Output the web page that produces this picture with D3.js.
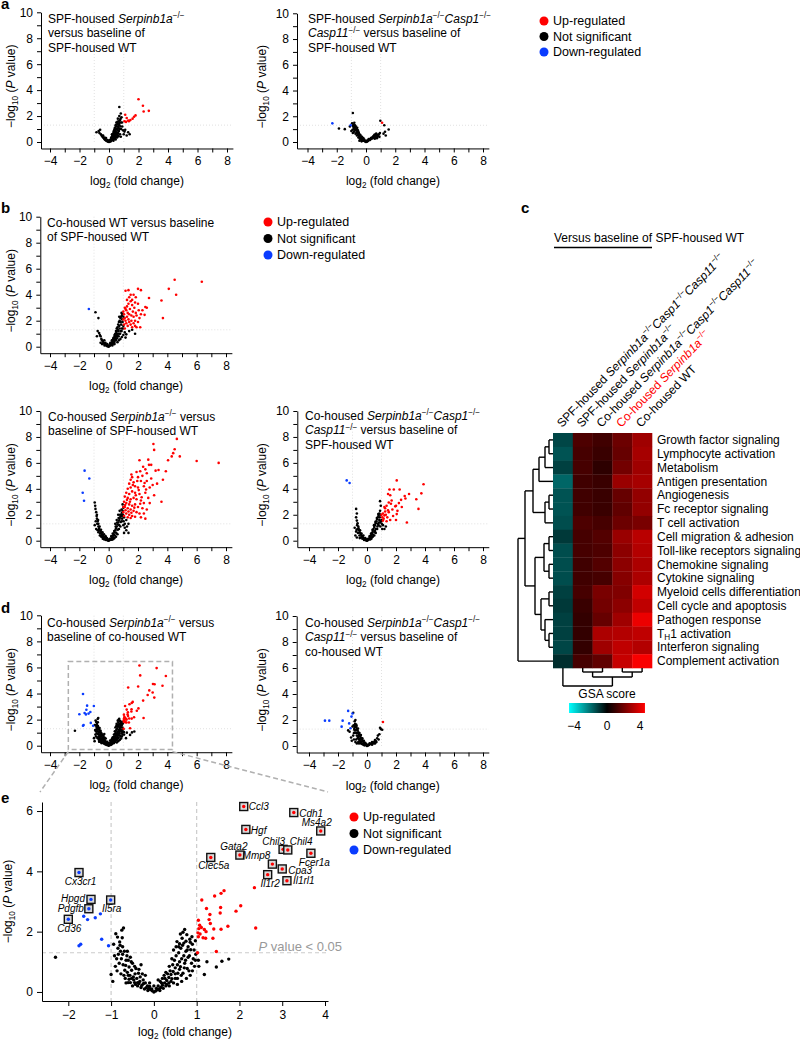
<!DOCTYPE html>
<html><head><meta charset="utf-8">
<script src="https://cdn.jsdelivr.net/npm/d3@7"></script>
<style>
body{margin:0;background:#fff;}
svg{font-family:"Liberation Sans",Arial,Helvetica,sans-serif;}
</style></head><body>
<svg id="fig" width="800" height="1042"></svg>
<script>
// ---------------- DATA ----------------
const legendLabels = ["Up-regulated","Not significant","Down-regulated"];
const xTickValues = [-4,-3,-2,-1,0,1,2,3,4,5,6,7,8];
const yTickValues = [0,1,2,3,4,5,6,7,8,9,10];
const eXTicks = [-2,-1,0,1,2,3,4];
const eYTicks = [0,2,4,6];

// a-left: SPF Serpinb1a-/- vs SPF WT
const aL_up = [[2.0,3.3],[2.3,2.8],[2.35,2.35],[2.7,2.4],[1.1,2.1],[1.2,1.85],[1.05,1.6],[1.3,1.65],[1.45,1.7],[1.6,1.8],[1.7,1.95],[1.8,2.05],[1.35,1.6],[1.15,1.55]];
const aL_ns = [[-0.85,0.75],[-0.6,0.95],[-0.55,0.6],[-0.5,0.5],[-0.45,0.42],[-0.4,0.35],[-0.35,0.3],[-0.3,0.22],[-0.25,0.15],[-0.2,0.12],[-0.15,0.08],[-0.1,0.05],[-0.05,0.02],[0,0],[0.05,0.03],[0.1,0.08],[0.12,0.2],[0.15,0.15],[0.2,0.35],[0.2,0.2],[0.25,0.5],[0.25,0.3],[0.3,0.7],[0.3,0.4],[0.35,0.9],[0.35,0.55],[0.35,0.25],[0.4,1.1],[0.4,0.7],[0.4,0.4],[0.45,1.3],[0.45,0.85],[0.45,0.5],[0.5,1.5],[0.5,1.0],[0.5,0.6],[0.55,1.2],[0.55,0.7],[0.6,1.8],[0.6,1.4],[0.6,0.9],[0.65,1.6],[0.65,1.1],[0.7,2.7],[0.7,2.0],[0.7,1.3],[0.75,1.7],[0.8,2.2],[0.8,1.5],[0.85,1.9],[0.9,1.2],[0.95,0.9],[1.0,0.6],[1.05,0.8],[1.2,0.5],[1.3,0.75],[1.4,0.6],[1.1,0.95],[0.3,0.1],[0.45,0.2],[0.55,0.35],[0.65,0.45],[0.75,0.6],[0.15,0.35],[0.2,0.6],[-0.2,0.3],[0.8,0.4],
 [0.02,0.1],[0.08,0.15],[0.12,0.05],[0.18,0.25],[0.22,0.45],[0.28,0.6],[0.28,0.15],[0.32,0.8],[0.33,0.45],[0.38,1.0],[0.38,0.6],[0.42,0.3],[0.42,0.95],[0.48,1.2],[0.48,0.75],[0.52,1.35],[0.52,0.4],[0.57,1.55],[0.57,1.0],[0.58,0.55],[0.62,1.2],[0.62,0.7],[0.67,1.4],[0.67,0.85],[0.72,1.5],[0.72,1.0],[0.78,1.8],[0.78,1.2],[0.82,1.0],[0.88,1.5],[-0.05,0.1],[-0.1,0.15],[-0.3,0.35],[-0.4,0.5],[-0.65,0.7],[-0.7,0.85]];
const aL_down = [];

// a-right: SPF triple KO vs SPF WT
const aR_up = [[1.1,1.5]];
const aR_ns = [[-0.9,2.25],[-1.85,1.05],[-1.45,1.0],[-1.1,1.2],[-0.95,1.45],[-0.85,1.35],[-0.8,1.5],[-0.75,1.3],[-0.85,1.1],[-0.8,0.95],[-0.75,1.1],[-0.7,1.2],[-0.7,0.9],[-0.65,1.0],[-0.6,0.8],[-0.65,0.7],[-0.55,0.6],[-0.5,0.75],[-0.5,0.5],[-0.45,0.4],[-0.4,0.55],[-0.4,0.3],[-0.35,0.35],[-0.3,0.25],[-0.25,0.2],[-0.2,0.15],[-0.15,0.1],[-0.1,0.08],[-0.05,0.03],[0,0],[0.05,0.02],[0.1,0.05],[0.15,0.1],[0.2,0.15],[0.25,0.2],[0.3,0.25],[0.35,0.3],[0.4,0.35],[0.45,0.3],[0.5,0.45],[0.55,0.5],[0.6,0.4],[0.65,0.6],[0.7,0.5],[0.75,0.3],[0.8,0.55],[0.85,0.45],[0.95,0.7],[0.98,1.65],[1.25,1.3],[1.55,0.97],[1.3,0.8],[1.35,0.5],[1.2,0.65],[-1.0,0.85],[-0.9,0.7],[-0.6,1.1],[-0.55,0.9],[0.6,0.25],[0.7,0.65],
 [-0.05,0.1],[-0.12,0.2],[-0.18,0.3],[-0.22,0.1],[-0.28,0.4],[-0.32,0.15],[-0.38,0.5],[-0.42,0.25],[-0.48,0.65],[-0.52,0.35],[-0.58,0.75],[-0.62,0.5],[-0.68,0.95],[-0.72,0.65],[-0.78,1.2],[-0.82,0.8],[-0.88,1.25],[-0.92,0.95],[0.08,0.12],[0.18,0.22],[0.28,0.15],[0.38,0.25],[0.48,0.35],[0.58,0.55],[0.68,0.35],[0.78,0.45],[0.88,0.6],[0.92,0.4],[-0.3,0.05],[-0.45,0.1]];
const aR_down = [[-2.3,1.45],[-1.05,1.3]];

// b-top: Co-housed WT vs SPF WT
const bT_up = [[6.35,5.0],[4.5,5.15],[4.1,4.45],[4.6,4.0],[3.6,3.55],[3.7,2.2],[2.75,3.75],[2.0,4.45],[2.2,4.35],[1.15,4.3],[1.35,4.35],[1.5,4.0],[1.7,4.0],[1.85,3.8],[2.5,3.05],[2.6,3.0],[2.45,2.45],[1.1,3.0],[1.15,2.9],[1.2,2.8],[1.25,3.1],[1.3,2.6],[1.35,3.3],[1.4,2.5],[1.45,2.9],[1.5,3.5],[1.55,2.4],[1.6,3.2],[1.65,2.7],[1.7,2.3],[1.75,3.0],[1.8,2.0],[1.85,2.6],[1.9,2.4],[2.0,3.3],[2.05,2.8],[2.1,2.2],[2.2,2.5],[1.05,2.5],[1.1,2.2],[1.15,2.0],[1.2,1.8],[1.25,2.3],[1.3,1.6],[1.35,2.1],[1.4,1.9],[1.5,1.7],[1.55,2.0],[1.6,1.5],[1.7,1.8],[1.8,1.6],[1.9,1.5],[2.0,1.9],[2.15,1.5],[1.25,3.6],[1.4,3.8],[1.6,3.6],[1.8,3.4],[2.3,2.8],[1.05,1.7],[1.1,1.4],[1.0,2.7],[1.0,2.1]];
const bT_ns = [[-0.9,2.65],[-0.7,2.2],[-0.8,0.8],[-0.65,1.05],[-0.55,0.8],[-0.5,0.6],[-0.45,0.5],[-0.4,0.4],[-0.35,0.3],[-0.3,0.25],[-0.25,0.2],[-0.2,0.15],[-0.15,0.1],[-0.1,0.06],[-0.05,0.03],[0,0],[0.05,0.05],[0.1,0.1],[0.15,0.2],[0.2,0.3],[0.25,0.4],[0.3,0.55],[0.35,0.7],[0.4,0.9],[0.45,1.0],[0.5,1.2],[0.55,1.4],[0.6,1.5],[0.65,1.7],[0.7,1.9],[0.75,2.0],[0.8,2.2],[0.85,2.3],[0.9,2.4],[0.95,2.5],[1.0,2.3],[0.2,0.15],[0.3,0.3],[0.4,0.45],[0.5,0.6],[0.6,0.8],[0.7,1.0],[0.8,1.2],[0.9,1.4],[1.0,1.6],[0.35,0.5],[0.45,0.7],[0.55,0.9],[0.65,1.2],[0.75,1.4],[0.85,1.7],[0.95,1.9],[0.25,0.1],[0.4,0.2],[0.6,0.35],[0.8,0.6],[1.0,0.9],[1.1,1.1],[1.2,0.95],[1.4,1.2],[1.6,1.3],[1.8,1.0],[1.15,0.7],[0.1,0.25],[-0.1,0.2],[-0.3,0.5],[-0.55,0.3],[0.7,0.5],[0.9,0.75],
 [0.12,0.3],[0.22,0.5],[0.28,0.2],[0.32,0.65],[0.38,0.35],[0.42,0.8],[0.48,0.5],[0.52,1.05],[0.58,0.65],[0.62,1.3],[0.68,0.8],[0.72,1.6],[0.78,1.0],[0.82,1.9],[0.88,1.2],[0.92,2.1],[0.98,1.4],[0.72,2.3],[0.88,2.6],[0.6,1.0],[0.5,0.8],[0.4,0.6],[-0.05,0.1],[-0.12,0.05],[-0.22,0.3],[-0.28,0.1],[-0.38,0.25],[-0.45,0.2],[-0.6,0.9],[-0.75,1.2]];
const bT_down = [[-1.35,2.9]];

// b-lower-left: Co-housed Serpinb1a-/- vs SPF WT
const bL_up = [[4.65,7.85],[3.05,7.45],[3.1,7.0],[4.4,6.75],[4.5,7.05],[4.3,6.5],[4.85,6.5],[4.05,6.2],[6.0,6.15],[7.5,6.0],[2.7,6.25],[2.1,6.2],[2.9,5.85],[2.75,5.85],[3.9,5.35],[3.4,5.45],[3.2,5.4],[2.35,5.7],[3.7,4.7],[3.6,3.0],[2.5,1.7],[2.5,5.5],[2.6,5.2],[2.3,5.0],[2.0,4.9],[1.9,5.3],[1.6,4.9],[1.5,4.7],[1.7,4.5],[1.4,4.4],[2.2,4.6],[2.6,4.6],[2.9,4.8],[3.0,4.3],[3.3,4.4],[2.8,4.1],[2.4,4.2],[2.0,4.1],[1.8,4.2],[1.5,4.1],[1.3,4.0],[1.2,3.7],[1.4,3.6],[1.6,3.8],[1.8,3.7],[2.1,3.6],[2.5,3.7],[2.7,3.3],[3.1,3.5],[1.1,3.4],[1.3,3.3],[1.5,3.2],[1.7,3.3],[1.9,3.2],[2.2,3.1],[2.4,2.9],[2.8,2.9],[1.05,3.0],[1.2,2.9],[1.4,2.8],[1.6,2.7],[1.8,2.8],[2.0,2.6],[2.3,2.5],[2.6,2.4],[1.1,2.6],[1.3,2.5],[1.5,2.4],[1.7,2.3],[1.9,2.2],[2.1,2.1],[2.4,2.1],[1.0,2.2],[1.2,2.1],[1.4,2.0],[1.6,1.9],[1.8,1.85],[2.2,1.8],[1.05,1.9],[1.3,1.8],[1.5,1.75],[1.15,2.35],[1.25,3.15],[1.35,2.25],[1.45,3.0],[1.55,2.15],[1.75,2.55],[1.85,3.5],[2.05,3.9],[2.15,2.85],[2.25,3.35],[1.65,4.3],[1.95,4.6],[2.45,4.45],[2.55,3.95],[1.55,5.1],[2.15,5.35],[1.0,2.6],[1.12,2.75]];
const bL_ns = [[-0.95,2.95],[-0.9,2.45],[-0.92,2.7],[-0.85,2.2],[-0.8,2.0],[-0.8,1.7],[-0.75,1.5],[-0.7,1.3],[-0.7,1.1],[-0.65,0.95],[-0.6,0.8],[-0.55,0.7],[-0.5,0.6],[-0.45,0.5],[-0.4,0.4],[-0.35,0.3],[-0.3,0.25],[-0.25,0.2],[-0.2,0.15],[-0.15,0.1],[-0.1,0.05],[-0.05,0.02],[0,0],[0.05,0.03],[0.1,0.07],[0.15,0.12],[0.2,0.2],[0.25,0.3],[0.3,0.4],[0.35,0.5],[0.4,0.65],[0.45,0.8],[0.5,0.95],[0.55,1.1],[0.6,1.25],[0.65,1.4],[0.7,1.55],[0.75,1.7],[0.8,1.85],[0.85,2.0],[0.9,2.15],[0.95,2.3],[1.0,2.55],[0.95,2.8],[0.9,1.5],[1.0,1.2],[1.1,1.0],[1.2,0.8],[1.35,0.6],[1.2,1.6],[1.05,1.8],[0.7,0.9],[0.6,0.5],[0.5,0.3],[0.4,0.2],[0.3,0.12],[0.8,1.1],[0.9,1.9],[-0.6,0.4],[-0.75,0.8],[-0.85,0.9],[-0.95,1.2],[-0.5,0.3],[-0.4,0.15],[-0.3,0.1],[-0.2,0.3],[-0.7,0.65],[0.2,0.08],[0.65,2.0],[0.75,2.3],[0.55,1.6],[0.45,1.3],[1.05,0.6],[1.35,1.3],
 [-0.05,0.1],[-0.12,0.2],[-0.18,0.05],[-0.22,0.35],[-0.28,0.15],[-0.32,0.5],[-0.38,0.2],[-0.42,0.65],[-0.48,0.35],[-0.52,0.85],[-0.58,0.55],[-0.62,1.1],[-0.68,0.8],[-0.72,1.6],[-0.78,1.3],[-0.82,1.9],[-0.88,1.5],[0.08,0.15],[0.18,0.35],[0.22,0.1],[0.28,0.55],[0.32,0.25],[0.38,0.75],[0.42,0.4],[0.48,1.1],[0.52,0.6],[0.58,1.4],[0.62,0.85],[0.68,1.75],[0.72,1.2],[0.78,2.0],[0.82,1.45],[0.88,2.4],[0.92,1.7],[0.98,2.0],[1.02,1.5],[1.1,1.3],[1.25,1.1]];
const bL_down = [[-1.64,5.4],[-1.32,4.8],[-1.77,3.7],[-1.68,3.08]];

// b-lower-right: Co-housed triple KO vs SPF WT
const bR_up = [[3.9,4.35],[3.75,3.65],[2.05,4.65],[2.25,3.95],[1.85,3.95],[1.55,3.95],[1.6,3.5],[1.45,3.6],[2.9,3.6],[2.6,3.45],[2.65,3.25],[2.35,3.15],[3.55,2.45],[3.4,3.2],[2.75,1.4],[2.05,2.05],[2.1,2.3],[1.65,2.85],[1.95,2.65],[1.35,2.7],[1.25,2.5],[1.1,2.1],[1.0,2.0],[1.05,1.8],[1.15,1.7],[1.2,1.95],[1.3,2.0],[1.4,1.8],[1.5,2.2],[1.6,1.6],[1.75,2.4],[1.8,1.9],[2.0,2.7],[2.2,2.9],[1.45,2.35],[1.25,2.25],[1.1,1.55],[1.35,1.5],[1.7,3.1],[1.5,2.95],[2.4,2.6],[2.0,1.6],[1.2,2.6]];
const bR_ns = [[-0.75,2.45],[-0.7,2.1],[-0.75,1.8],[-0.7,1.55],[-0.65,1.35],[-0.6,1.1],[-0.65,0.9],[-0.55,0.8],[-0.5,0.65],[-0.45,0.55],[-0.4,0.45],[-0.35,0.35],[-0.3,0.28],[-0.25,0.2],[-0.2,0.15],[-0.15,0.1],[-0.1,0.06],[-0.05,0.02],[0,0],[0.05,0.03],[0.1,0.08],[0.15,0.15],[0.2,0.25],[0.25,0.35],[0.3,0.45],[0.35,0.6],[0.4,0.75],[0.45,0.9],[0.5,1.05],[0.55,1.2],[0.6,1.35],[0.65,1.5],[0.7,1.65],[0.75,1.8],[0.8,1.95],[0.85,2.1],[0.9,2.3],[0.9,3.05],[0.95,2.0],[1.0,1.6],[1.1,1.2],[1.2,0.9],[0.7,0.9],[0.6,0.6],[0.5,0.4],[0.4,0.3],[0.8,1.2],[0.9,1.4],[-0.8,0.4],[-0.75,0.7],[-0.85,1.0],[-0.7,0.25],[-0.5,0.2],[0.3,0.15],[0.55,0.75],[0.75,1.3],[0.85,1.6],[1.3,1.1],[1.05,0.9],[0.95,2.7],
 [-0.05,0.1],[-0.12,0.2],[-0.2,0.05],[-0.25,0.4],[-0.32,0.15],[-0.38,0.55],[-0.42,0.25],[-0.48,0.8],[-0.52,0.4],[-0.58,0.95],[-0.62,0.6],[-0.68,1.2],[-0.72,0.85],[0.08,0.15],[0.18,0.35],[0.22,0.1],[0.28,0.55],[0.32,0.25],[0.38,0.85],[0.42,0.45],[0.48,1.2],[0.52,0.65],[0.58,1.45],[0.62,0.9],[0.68,1.75],[0.72,1.1],[0.78,2.05],[0.82,1.4],[0.88,1.8],[0.92,1.1],[0.98,1.5],[1.02,1.3]];
const bR_down = [[-1.4,4.65],[-1.2,4.45]];

// d-right: Co-housed triple KO vs co-housed WT
const dR_up = [[1.1,1.85]];
const dR_ns = [[-0.95,2.55],[-0.85,1.9],[-0.8,1.6],[-0.75,1.45],[-0.7,1.3],[-0.65,1.2],[-0.6,1.05],[-0.55,0.9],[-0.5,0.8],[-0.45,0.7],[-0.4,0.6],[-0.35,0.5],[-0.3,0.4],[-0.25,0.3],[-0.2,0.25],[-0.15,0.18],[-0.1,0.1],[-0.05,0.05],[0,0],[0.05,0.03],[0.1,0.06],[0.15,0.1],[0.2,0.15],[0.3,0.2],[0.4,0.25],[0.5,0.3],[0.6,0.4],[0.7,0.6],[0.75,0.8],[0.95,1.3],[1.05,1.25],[0.9,1.4],[-0.9,1.0],[-1.1,0.65],[-1.05,0.4],[-0.95,0.8],[-0.85,1.2],[-0.75,1.0],[-0.7,0.8],[-0.65,0.6],[-0.6,0.7],[-0.55,0.5],[-0.5,0.4],[-0.45,0.3],[-0.4,0.2],[-0.35,0.15],[-0.9,0.5],[-0.8,0.3],[-0.7,0.2],[-0.6,0.3],[-1.2,1.1],[-1.3,1.2],[-0.25,0.1],[0.35,0.1],[0.55,0.2],[-0.8,2.0],[-0.85,1.45],[-0.75,1.65],
 [-0.05,0.15],[-0.12,0.25],[-0.18,0.05],[-0.22,0.4],[-0.28,0.15],[-0.32,0.6],[-0.38,0.35],[-0.42,0.85],[-0.48,0.55],[-0.52,1.0],[-0.58,0.75],[-0.62,1.35],[-0.68,1.0],[-0.72,1.55],[-0.78,1.2],[-0.82,1.7],[-0.88,1.3],[-0.92,1.6],[0.08,0.1],[0.18,0.2],[0.25,0.15],[0.35,0.3],[0.45,0.2],[0.55,0.45],[0.65,0.3],[0.8,0.5],[0.85,0.9],[-0.75,0.5],[-0.55,0.2],[-1.0,1.5]];
const dR_down = [[-2.9,1.95],[-2.6,1.95],[-1.3,2.7],[-1.0,2.5],[-1.07,2.26],[-1.68,1.95],[-1.75,1.49],[-1.23,1.74],[-1.14,1.36]];

// d-left and e: Co-housed Serpinb1a-/- vs co-housed WT
const upGenes = ["Ccl3","Cdh1","Ms4a2","Hgf","Gata2","Clec5a","Chil3","Chil4","Fcer1a","Mmp8","Cpa3","Il1r2","Il1rl1"];
const upGeneFC = [2.1,3.27,3.9,2.15,2.01,1.33,3.02,3.13,3.67,2.77,3.0,2.66,3.11];
const upGeneP = [6.15,5.95,5.34,5.39,4.54,4.46,4.73,4.71,4.6,4.24,4.08,3.89,3.69];
const downGenes = ["Cx3cr1","Hpgd","Pdgfb","Il5ra","Cd36"];
const downGeneFC = [-1.75,-1.47,-1.52,-1.01,-2.0];
const downGeneP = [3.96,3.07,2.76,3.05,2.41];
const e_up = [[2.35,3.46],[1.64,3.36],[1.42,3.18],[1.57,3.27],[1.12,3.05],[1.23,2.77],[1.04,2.38],[1.29,2.4],[1.31,2.57],[1.07,2.21],[1.11,2.14],[1.56,2.8],[1.55,2.62],[2.03,2.86],[1.92,2.68],[1.73,2.18],[1.57,2.08],[1.4,2.09],[1.18,2.07],[1.38,1.78],[1.21,1.78],[1.04,1.83],[1.03,1.96],[1.08,1.92],[2.38,2.12],[1.46,1.34],[1.02,1.3],[1.32,2.27],[1.22,2.0],[1.05,2.1],[1.15,1.8]];
const e_down = [[-1.64,2.51],[-1.55,2.4],[-1.37,2.46],[-1.25,2.59],[-1.22,1.75],[-1.06,1.53],[-1.75,1.53],[-1.71,1.58]];
const e_ns = [[-2.3,1.15],[-1.0,0.58],[-0.86,0.7],[-0.71,2.12],[-0.75,2.05],[-0.89,1.93],[-0.85,1.82],[-0.8,1.66],[-0.94,1.58],[-0.73,1.5],[-0.83,1.25],[-0.73,1.25],[-0.63,1.2],[-0.87,1.1],[-0.65,1.05],[-0.55,1.15],[-0.5,0.95],[-0.58,0.83],[-0.68,0.72],[-0.52,0.72],[-0.44,0.6],[-0.48,0.5],[-0.55,0.31],[-0.45,0.31],[-0.38,0.31],[-0.6,0.31],[-0.4,0.45],[-0.32,0.5],[-0.25,0.4],[-0.2,0.3],[-0.28,0.22],[-0.15,0.2],[-0.12,0.12],[-0.08,0.08],[-0.04,0.04],[0,0],[0.04,0.03],[0.08,0.07],[0.12,0.1],[0.16,0.15],[0.2,0.22],[0.25,0.3],[0.3,0.38],[0.35,0.48],[0.4,0.58],[0.45,0.68],[0.5,0.8],[0.55,0.9],[0.6,1.0],[0.65,1.1],[0.7,1.2],[0.75,1.35],[0.8,1.5],[0.85,1.65],[0.89,1.83],[0.72,2.07],[0.68,1.98],[0.62,1.92],[0.66,1.78],[0.54,1.67],[0.75,1.68],[0.67,1.55],[0.58,1.5],[0.46,1.39],[0.78,1.39],[0.94,1.39],[0.83,1.2],[0.97,1.05],[0.72,0.95],[0.62,0.84],[0.5,0.6],[0.42,0.44],[0.35,0.3],[0.28,0.2],[0.36,0.2],[0.46,0.3],[0.55,0.45],[0.68,0.62],[0.78,0.78],[0.88,0.95],[1.18,0.58],[1.46,0.83],[1.59,1.02],[1.75,1.09],[1.24,1.0],[1.05,0.85],[1.04,1.05],[0.98,1.25],[0.9,0.7],[0.24,0.55],[0.15,0.35],[-0.1,0.3],[-0.2,0.55],[-0.35,0.75],[-0.3,0.9],[-0.6,0.55],[-0.67,0.45],[-0.72,0.9],[-0.78,1.35],[-0.62,1.35],[-0.45,0.85],
 [-0.05,0.1],[-0.1,0.18],[-0.14,0.05],[-0.18,0.14],[-0.22,0.1],[-0.24,0.28],[-0.3,0.15],[-0.33,0.35],[-0.36,0.62],[-0.38,0.2],[-0.42,0.78],[-0.47,0.4],[-0.5,0.2],[-0.53,1.0],[-0.56,0.55],[-0.58,0.42],[-0.6,1.05],[-0.62,0.65],[-0.65,0.3],[-0.66,0.88],[-0.69,1.35],[-0.7,0.55],[-0.74,1.8],[-0.76,1.1],[-0.77,0.6],[-0.79,1.55],[-0.81,0.95],[-0.84,1.45],[-0.9,0.85],[-0.92,1.2],[-0.96,0.35],[-0.35,0.28],[-0.27,0.6],[-0.43,0.25],[-0.52,0.45],
 [0.06,0.12],[0.1,0.2],[0.14,0.05],[0.18,0.3],[0.22,0.12],[0.26,0.45],[0.3,0.25],[0.32,0.6],[0.38,0.7],[0.4,0.35],[0.44,0.9],[0.48,1.05],[0.5,0.45],[0.52,1.2],[0.56,0.62],[0.58,1.3],[0.6,0.75],[0.63,1.45],[0.64,0.55],[0.7,1.62],[0.71,0.8],[0.74,1.05],[0.77,1.9],[0.8,1.15],[0.82,0.7],[0.84,1.75],[0.86,1.4],[0.9,1.58],[0.92,1.1],[0.95,0.85],[0.97,1.7],[0.52,1.5],[0.6,1.6],[0.42,1.1],[0.36,0.85],[0.28,0.65],[0.2,0.45],[0.1,0.4],[0.0,0.2],[0.85,0.55],[0.76,0.45],[0.65,0.35],[0.55,0.25]];

// titles
const titleAL = ["SPF-housed <i>Serpinb1a</i><s>−/−</s>","versus baseline of","SPF-housed WT"];
const titleAR = ["SPF-housed <i>Serpinb1a</i><s>−/−</s><i>Casp1</i><s>−/−</s>","<i>Casp11</i><s>−/−</s> versus baseline of","SPF-housed WT"];
const titleBT = ["Co-housed WT versus baseline","of SPF-housed WT"];
const titleBL = ["Co-housed <i>Serpinb1a</i><s>−/−</s> versus","baseline of SPF-housed WT"];
const titleBR = ["Co-housed <i>Serpinb1a</i><s>−/−</s><i>Casp1</i><s>−/−</s>","<i>Casp11</i><s>−/−</s> versus baseline of","SPF-housed WT"];
const titleDL = ["Co-housed <i>Serpinb1a</i><s>−/−</s> versus","baseline of co-housed WT"];
const titleDR = ["Co-housed <i>Serpinb1a</i><s>−/−</s><i>Casp1</i><s>−/−</s>","<i>Casp11</i><s>−/−</s> versus baseline of","co-housed WT"];

// heatmap
const pathways = ["Growth factor signaling","Lymphocyte activation","Metabolism","Antigen presentation","Angiogenesis","Fc receptor signaling","T cell activation","Cell migration & adhesion","Toll-like receptors signaling","Chemokine signaling","Cytokine signaling","Myeloid cells differentiation","Cell cycle and apoptosis","Pathogen response","T<b>H</b>1 activation","Interferon signaling","Complement activation"];
const conditions = ["SPF-housed <i>Serpinb1a</i><s>−/−</s><i>Casp1</i><s>−/−</s><i>Casp11</i><s>−/−</s>","SPF-housed <i>Serpinb1a</i><s>−/−</s>","Co-housed <i>Serpinb1a</i><s>−/−</s><i>Casp1</i><s>−/−</s><i>Casp11</i><s>−/−</s>","Co-housed <i>Serpinb1a</i><s>−/−</s>","Co-housed WT"];
const conditionHighlight = [false,false,false,true,false];
const gsaScores = [
 [-1.1,1.2,1.0,1.7,2.5],
 [-1.3,1.1,0.9,1.6,2.6],
 [-1.0,1.1,0.7,1.8,2.5],
 [-1.6,1.0,0.9,2.4,2.6],
 [-1.3,1.0,0.9,1.6,2.3],
 [-1.3,1.0,0.9,1.5,2.3],
 [-1.2,1.2,1.1,1.7,1.9],
 [-0.9,1.1,1.3,2.4,2.9],
 [-1.2,1.1,1.2,2.2,2.8],
 [-1.2,1.0,1.3,2.2,2.7],
 [-1.2,1.0,1.1,2.1,2.7],
 [-1.0,1.1,1.9,2.0,3.3],
 [-0.9,0.9,1.8,2.2,3.0],
 [-1.0,0.8,1.6,2.5,3.7],
 [-1.0,0.8,2.7,2.8,3.0],
 [-1.1,0.8,2.5,3.0,2.8],
 [-0.7,1.1,1.5,3.1,3.9]
];
// hclust-style merges: negative = leaf (1-based), positive = earlier merge; third = height
const rowMerges = [[-1,-2,4],[1,-3,8],[2,-4,14],[-5,-6,4],[4,-7,8],[3,5,20],[-8,-9,4],[-10,-11,4],[7,8,9],[-12,-13,4],[-15,-16,4],[-14,11,8],[10,12,12],[9,13,18],[6,14,28],[15,-17,35]];
const colMerges = [[-2,-3,4],[-4,-5,4],[1,2,9],[-1,3,18]];
const gsaDomain = [-4,0,4];
const gsaColors = ["#00ffff","#000000","#ff0000"];

// ---------------- DRAWING ----------------
const svg = d3.select("#fig");
const FS = 12;
const COL = {up:"#ff0000", ns:"#000000", down:"#0a3cff"};

function parseSegs(str){
  const out=[]; const re=/<([isb])>(.*?)<\/\1>/g; let last=0, m;
  while((m=re.exec(str))){ if(m.index>last) out.push([str.slice(last,m.index),""]); out.push([m[2],m[1]]); last=re.lastIndex; }
  if(last<str.length) out.push([str.slice(last),""]);
  return out;
}
function rich(sel, str, size){
  let shift=0;
  parseSegs(str).forEach(([t,st])=>{
    const ts = sel.append("tspan").text(t);
    const target = st==="s" ? -0.4*size : st==="b" ? 0.22*size : 0;
    if(target!==shift){ ts.attr("dy", target-shift); shift=target; }
    if(st==="s"||st==="b") ts.attr("font-size", size*0.68);
    if(st==="i") ts.attr("font-style","italic");
  });
  return sel;
}

function panelLetter(t,x,y){
  svg.append("text").attr("x",x).attr("y",y).attr("font-size",15).attr("font-weight","bold").text(t);
}

function legend(x,y,sp){
  const g = svg.append("g");
  [COL.up,COL.ns,COL.down].forEach((c,i)=>{
    g.append("circle").attr("cx",x).attr("cy",y+i*sp).attr("r",4.5).attr("fill",c);
    g.append("text").attr("x",x+9).attr("y",y+i*sp).attr("dy","0.35em").attr("font-size",12.5).text(legendLabels[i]);
  });
}

function yTitle(g, x, y){
  const t = g.append("text").attr("transform",`translate(${x},${y}) rotate(-90)`).attr("text-anchor","middle").attr("font-size",FS);
  rich(t, "−log<b>10</b> (<i>P</i> value)", FS);
}
function xTitle(g, x, y){
  const t = g.append("text").attr("x",x).attr("y",y).attr("text-anchor","middle").attr("font-size",FS);
  rich(t, "log<b>2</b> (fold change)", FS);
}

function styleAxis(ax){
  ax.attr("font-family",null).attr("font-size",FS);
  ax.selectAll("path,line").attr("stroke","#000").attr("stroke-width",1);
}
const intFmt = d3.format("d");

function volcano(cfg){
  const g = svg.append("g");
  const ppu = (cfg.x8 - cfg.xm4)/12;
  const xStart = -4 - (cfg.xm4 - cfg.ax)/ppu;
  const x = d3.scaleLinear().domain([xStart, 8.4]).range([cfg.ax, cfg.xm4 + 12.4*ppu]);
  const ppy = (cfg.y0 - cfg.y10)/10;
  const y = d3.scaleLinear().domain([-0.5, 10]).range([cfg.y0 + 0.5*ppy, cfg.y10]);
  const gl = g.append("g").attr("stroke","#d9d9d9").attr("stroke-width",0.8).attr("stroke-dasharray","1,2");
  [-1,1].forEach(v=> gl.append("line").attr("x1",x(v)).attr("x2",x(v)).attr("y1",y(0)).attr("y2",y(10)));
  gl.append("line").attr("x1",x(xStart)).attr("x2",x(8.4)).attr("y1",y(-Math.log10(0.05))).attr("y2",y(-Math.log10(0.05)));
  const xa = g.append("g").attr("transform",`translate(0,${y(-0.5)})`)
    .call(d3.axisBottom(x).tickValues(xTickValues).tickFormat(d=> d%2===0 ? intFmt(d) : "").tickSize(4).tickSizeOuter(0).tickPadding(4));
  styleAxis(xa);
  const ya = g.append("g").attr("transform",`translate(${x(xStart)},0)`)
    .call(d3.axisLeft(y).tickValues(yTickValues).tickFormat(d=> d%2===0 ? intFmt(d) : "").tickSize(4).tickSizeOuter(0).tickPadding(4));
  styleAxis(ya);
  xTitle(g, (x(xStart)+x(8.4))/2, y(-0.5)+37);
  yTitle(g, cfg.ytx, y(4.3));
  const r = cfg.r || 1.3;
  [[cfg.ns,COL.ns],[cfg.up,COL.up],[cfg.down,COL.down]].forEach(([arr,c])=>{
    g.append("g").selectAll("circle").data(arr).join("circle")
      .attr("cx",d=>x(d[0])).attr("cy",d=>y(d[1])).attr("r",r).attr("fill",c);
  });
  cfg.title.forEach((line,i)=>{
    const t = g.append("text").attr("x",cfg.tx).attr("y",cfg.ty + i*14.4).attr("font-size",FS);
    rich(t,line,FS);
  });
  return {x,y,g};
}

// Panel a
panelLetter("a",1,9);
volcano({ax:41,xm4:50,x8:227,y10:12.3,y0:142,ytx:15,tx:48,ty:23,title:titleAL,up:aL_up,ns:aL_ns,down:aL_down});
volcano({ax:297,xm4:307.5,x8:483,y10:13.3,y0:142,ytx:266,tx:308,ty:23,title:titleAR,up:aR_up,ns:aR_ns,down:aR_down});
legend(544,21,15.5);

// Panel b
panelLetter("b",1,213);
volcano({ax:40.3,xm4:50,x8:226,y10:216.7,y0:346.7,ytx:15,tx:47,ty:227,title:titleBT,up:bT_up,ns:bT_ns,down:bT_down});
legend(268,222,16.5);
volcano({ax:40.3,xm4:50,x8:226,y10:411,y0:540.7,ytx:15,tx:48,ty:421,title:titleBL,up:bL_up,ns:bL_ns,down:bL_down});
volcano({ax:297.3,xm4:309,x8:483,y10:411,y0:540.7,ytx:266,tx:305,ty:420,title:titleBR,up:bR_up,ns:bR_ns,down:bR_down});

// Panel d
panelLetter("d",1,613);
const dAll_up = e_up.concat(upGeneFC.map((v,i)=>[v,upGeneP[i]]));
const dAll_down = e_down.concat(downGeneFC.map((v,i)=>[v,downGeneP[i]]));
const dL = volcano({ax:41,xm4:50,x8:226,y10:615.3,y0:745.7,ytx:15,tx:47,ty:627,title:titleDL,up:dAll_up,ns:e_ns,down:dAll_down});
volcano({ax:296.7,xm4:309,x8:483,y10:616,y0:746,ytx:266,tx:305,ty:627,title:titleDR,up:dR_up,ns:dR_ns,down:dR_down});

const zb = svg.append("g").attr("fill","none").attr("stroke","#b0b0b0").attr("stroke-width",1.5).attr("stroke-dasharray","5,3");
const bx0 = dL.x(-2.75), bx1 = dL.x(4.35), by0 = dL.y(6.45), by1 = dL.y(-0.3);
zb.append("rect").attr("x",bx0).attr("y",by0).attr("width",bx1-bx0).attr("height",by1-by0);

// Panel e
panelLetter("e",1,803);
const ex = d3.scaleLinear().domain([-2.615,4.07]).range([42,328]);
const ey = d3.scaleLinear().domain([-0.3,6.3]).range([1001,802]);
zb.append("line").attr("x1",bx0).attr("y1",by1+2).attr("x2",ex(-2.615)-2).attr("y2",792);
zb.append("line").attr("x1",bx1).attr("y1",by1+2).attr("x2",ex(4.07)).attr("y2",792);

const eg = svg.append("g");
const egl = eg.append("g").attr("stroke","#cccccc").attr("stroke-width",1.2).attr("stroke-dasharray","4,3");
[-1,1].forEach(v=> egl.append("line").attr("x1",ex(v)).attr("x2",ex(v)).attr("y1",ey(6.3)).attr("y2",ey(-0.3)));
egl.append("line").attr("x1",ex(-2.615)).attr("x2",ex(4.07)).attr("y1",ey(-Math.log10(0.05))).attr("y2",ey(-Math.log10(0.05)));
const pv = eg.append("text").attr("x",342).attr("y",951).attr("text-anchor","end").attr("font-size",13).attr("fill","#999");
rich(pv,"<i>P</i> value < 0.05",13);

const exa = eg.append("g").attr("transform",`translate(0,1001)`)
  .call(d3.axisBottom(ex).tickValues(eXTicks).tickFormat(intFmt).tickSize(5).tickSizeOuter(0).tickPadding(4));
styleAxis(exa);
const eya = eg.append("g").attr("transform",`translate(42,0)`)
  .call(d3.axisLeft(ey).tickValues(eYTicks).tickFormat(intFmt).tickSize(5).tickSizeOuter(0).tickPadding(4));
styleAxis(eya);
xTitle(eg,(42+328)/2,1036);
yTitle(eg,12,ey(3.0));

[[e_ns,COL.ns],[e_up,COL.up],[e_down,COL.down]].forEach(([arr,c])=>{
  eg.append("g").selectAll("circle").data(arr).join("circle")
    .attr("cx",d=>ex(d[0])).attr("cy",d=>ey(d[1])).attr("r",1.7).attr("fill",c);
});
const geneLabelPos = {
  Ccl3:[5,0,"start"],Cdh1:[5.5,1,"start"],Ms4a2:[-4,-8,"middle"],Hgf:[5,1,"start"],Gata2:[-6,-9,"middle"],
  Clec5a:[3,8.5,"middle"],Chil3:[2,-8,"end"],Chil4:[2,-8,"start"],Fcer1a:[3.5,9,"middle"],Mmp8:[-2,-9,"end"],
  Cpa3:[6,2,"start"],Il1r2:[2.5,9,"middle"],Il1rl1:[6,0,"start"],
  Cx3cr1:[1.5,8.5,"middle"],Hpgd:[-6,-1,"end"],Pdgfb:[-5,0,"end"],Il5ra:[1,8.5,"middle"],Cd36:[1,9,"middle"]
};
function boxed(names, fcs, ps, c){
  names.forEach((n,i)=>{
    const cx = ex(fcs[i]), cy = ey(ps[i]);
    eg.append("rect").attr("x",cx-4).attr("y",cy-4).attr("width",8).attr("height",8)
      .attr("fill","#d8d8d8").attr("stroke","#111").attr("stroke-width",1.4);
    eg.append("circle").attr("cx",cx).attr("cy",cy).attr("r",1.7).attr("fill",c);
    const [dx,dy,anc] = geneLabelPos[n];
    eg.append("text").attr("x",cx+dx).attr("y",cy+dy).attr("dy","0.35em").attr("text-anchor",anc)
      .attr("font-size",10).attr("font-style","italic").text(n);
  });
}
boxed(upGenes, upGeneFC, upGeneP, COL.up);
boxed(downGenes, downGeneFC, downGeneP, COL.down);
legend(354,817,16.5);

// Panel c heatmap
panelLetter("c",521,213);
const hm = svg.append("g");
hm.append("text").attr("x",554).attr("y",242).attr("font-size",FS).text("Versus baseline of SPF-housed WT");
hm.append("line").attr("x1",554).attr("x2",652).attr("y1",247.5).attr("y2",247.5).attr("stroke","#000").attr("stroke-width",1.5);

const hx = d3.scaleBand().domain(d3.range(conditions.length)).range([553,652]);
const hy = d3.scaleBand().domain(d3.range(pathways.length)).range([433,668]);
const hcol = d3.scaleLinear().domain(gsaDomain).range(gsaColors);
gsaScores.forEach((row,i)=>{
  hm.append("g").selectAll("rect").data(row).join("rect")
    .attr("x",(d,j)=>hx(j)).attr("y",hy(i)).attr("width",hx.bandwidth()+0.3).attr("height",hy.bandwidth()+0.3)
    .attr("fill",d=>hcol(d));
});
pathways.forEach((p,i)=>{
  const t = hm.append("text").attr("x",657).attr("y",hy(i)+hy.bandwidth()/2).attr("dy","0.35em").attr("font-size",FS);
  rich(t,p,FS);
});
conditions.forEach((c,j)=>{
  const t = hm.append("text").attr("transform",`translate(${hx(j)+hx.bandwidth()/2-1},428) rotate(-46)`)
    .attr("font-size",FS).attr("fill",conditionHighlight[j]?"#ff0000":"#000");
  rich(t,c,FS);
});

function dendro(merges, leafPos, hScale, orient){
  const pos = [], hgt = [];
  const getP = k => k<0 ? leafPos(-k-1) : pos[k-1];
  const getH = k => k<0 ? 0 : hgt[k-1];
  const lines = [];
  merges.forEach(([a,b,h],i)=>{
    const pa = getP(a), pb = getP(b);
    pos[i] = (pa+pb)/2; hgt[i] = h;
    lines.push([getH(a),pa,h,pa],[getH(b),pb,h,pb],[h,pa,h,pb]);
  });
  const dg = svg.append("g").attr("stroke","#000").attr("stroke-width",1.4).attr("fill","none");
  lines.forEach(([h1,p1,h2,p2])=>{
    if(orient==="row") dg.append("line").attr("x1",hScale(h1)).attr("x2",hScale(h2)).attr("y1",p1).attr("y2",p2);
    else dg.append("line").attr("y1",hScale(h1)).attr("y2",hScale(h2)).attr("x1",p1).attr("x2",p2);
  });
}
dendro(rowMerges, i=>hy(i)+hy.bandwidth()/2, d3.scaleLinear().domain([0,35]).range([553,518]), "row");
dendro(colMerges, j=>hx(j)+hx.bandwidth()/2, d3.scaleLinear().domain([0,18]).range([668,686]), "col");

const defs = svg.append("defs");
const grad = defs.append("linearGradient").attr("id","gsa");
gsaDomain.forEach((v,i)=> grad.append("stop").attr("offset",`${(v+4)/8*100}%`).attr("stop-color",gsaColors[i]));
const ks = d3.scaleLinear().domain([-4,4]).range([574,640]);
svg.append("text").attr("x",607).attr("y",698).attr("text-anchor","middle").attr("font-size",FS).text("GSA score");
svg.append("rect").attr("x",ks(-4.6)).attr("y",703).attr("width",ks(4.6)-ks(-4.6)).attr("height",10).attr("fill","url(#gsa)");
[-4,0,4].forEach(v=> svg.append("text").attr("x",ks(v)).attr("y",730).attr("text-anchor","middle").attr("font-size",FS).text(intFmt(v)));
</script></body></html>
